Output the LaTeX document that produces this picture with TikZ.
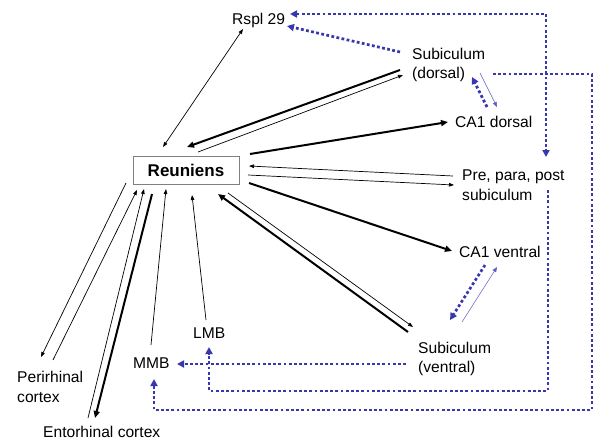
\documentclass[tikz,border=0pt]{standalone}
\usepackage{fontspec}
\setmainfont{Liberation Sans}
\usetikzlibrary{arrows.meta,calc}
\definecolor{dotblue}{RGB}{55,55,175}
\begin{document}
\begin{tikzpicture}[x=1pt,y=-1pt,
  lbl/.style={anchor=west,inner sep=0pt,align=left,font=\fontsize{15.6}{19.5}\selectfont},
  thinarr/.style={line width=0.7pt,-{Triangle[length=5pt,width=3.6pt]}},
  thinboth/.style={line width=0.7pt,{Triangle[length=5pt,width=3.6pt]}-{Triangle[length=5pt,width=3.6pt]}},
  thickarr/.style={line width=2pt,-{Triangle[length=7pt,width=6pt]}},
  dotarr/.style={dotblue,line width=2.7pt,dash pattern=on 2.8pt off 2.4pt,-{Triangle[length=7pt,width=7pt]}},
  dotboth/.style={dotblue,line width=2.7pt,dash pattern=on 2.8pt off 2.4pt,{Triangle[length=7pt,width=7pt]}-{Triangle[length=7pt,width=7pt]}},
  bluethin/.style={dotblue!80,line width=0.5pt,-{Triangle[length=5pt,width=4pt]}}]
\useasboundingbox (0,0) rectangle (596,441);
\fill[white] (0,0) rectangle (596,441);
% nodes
\node[draw=gray,line width=0.8pt,minimum width=106pt,minimum height=28pt,inner sep=0pt,
  font=\fontsize{17}{20}\selectfont\bfseries] (reun) at (186,170) {Reuniens};
\node[lbl] (rspl) at (232,20) {Rspl 29};
\node[lbl] (subd) at (412,65) {Subiculum\\(dorsal)};
\node[lbl] (ca1d) at (455,122) {CA1 dorsal};
\node[lbl] (pre) at (462,185) {Pre, para, post\\subiculum};
\node[lbl] (ca1v) at (459,252) {CA1 ventral};
\node[lbl] (subv) at (418,359) {Subiculum\\(ventral)};
\node[lbl] (lmb) at (193,333) {LMB};
\node[lbl] (mmb) at (133,363) {MMB};
\node[lbl] (peri) at (17,387) {Perirhinal\\cortex};
\node[lbl] (ento) at (43,432) {Entorhinal cortex};
% black connectors
\draw[thinboth] ($(rspl.west)+(11,9)$) -- ($(reun.center)+(-23,-23)$);
\draw[thickarr] ($(subd.west)+(-12,5)$) -- ($(reun.center)+(1,-23)$);
\draw[thinarr] ($(reun.center)+(12,-18)$) -- ($(subd.west)+(-9,10)$);
\draw[thickarr] ($(reun.center)+(64,-16)$) -- ($(ca1d.west)+(-7,0)$);
\draw[thinarr] ($(pre.west)+(-9,-9)$) -- ($(reun.center)+(63,-4)$);
\draw[thinarr] ($(reun.center)+(62,5)$) -- ($(pre.west)+(-8,0)$);
\draw[thickarr] ($(reun.center)+(63,13)$) -- ($(ca1v.west)+(-7,-1)$);
\draw[thickarr] ($(subv.west)+(-10,-27)$) -- ($(reun.center)+(32,24)$);
\draw[thinarr] ($(reun.center)+(42,23)$) -- ($(subv.west)+(-5,-32)$);
\draw[thinarr] ($(lmb.west)+(13,-13)$) -- ($(reun.center)+(6,25)$);
\draw[thinarr] ($(mmb.west)+(18,-18)$) -- ($(reun.center)+(-20,19)$);
\draw[thinarr] ($(reun.center)+(-60,13)$) -- ($(peri.west)+(24,-30)$);
\draw[thinarr] ($(peri.west)+(36,-27)$) -- ($(reun.center)+(-49,20)$);
\draw[thinarr] ($(ento.west)+(45,-14)$) -- ($(reun.center)+(-42,19)$);
\draw[thickarr] ($(reun.center)+(-34,24)$) -- ($(ento.west)+(52,-14)$);
% blue dotted connectors
\draw[dotarr] ($(subd.west)+(-12,-13)$) -- ($(rspl.west)+(55,6)$);
\draw[dotboth] ($(rspl.west)+(58,-6)$) -| ($(pre.west)+(84,-28)$);
\draw[dotarr] ($(subd.west)+(81,9)$) -- (592,74) -- (592,410) -| ($(mmb.west)+(21,16)$);
\draw[dotarr] ($(pre.west)+(86,5)$) -- (548,391) -| ($(lmb.west)+(16,14)$);
\draw[dotarr] ($(subv.west)+(-12,5)$) -- ($(mmb.west)+(44,1)$);
\draw[dotarr] ($(ca1d.west)+(32,-15)$) -- ($(subd.west)+(60,12)$);
\draw[bluethin] ($(subd.west)+(68,8)$) -- ($(ca1d.west)+(42,-15)$);
\draw[dotarr] ($(ca1v.west)+(26,13)$) -- ($(subv.west)+(32,-39)$);
\draw[bluethin] ($(subv.west)+(44,-37)$) -- ($(ca1v.west)+(38,15)$);
\end{tikzpicture}
\end{document}
